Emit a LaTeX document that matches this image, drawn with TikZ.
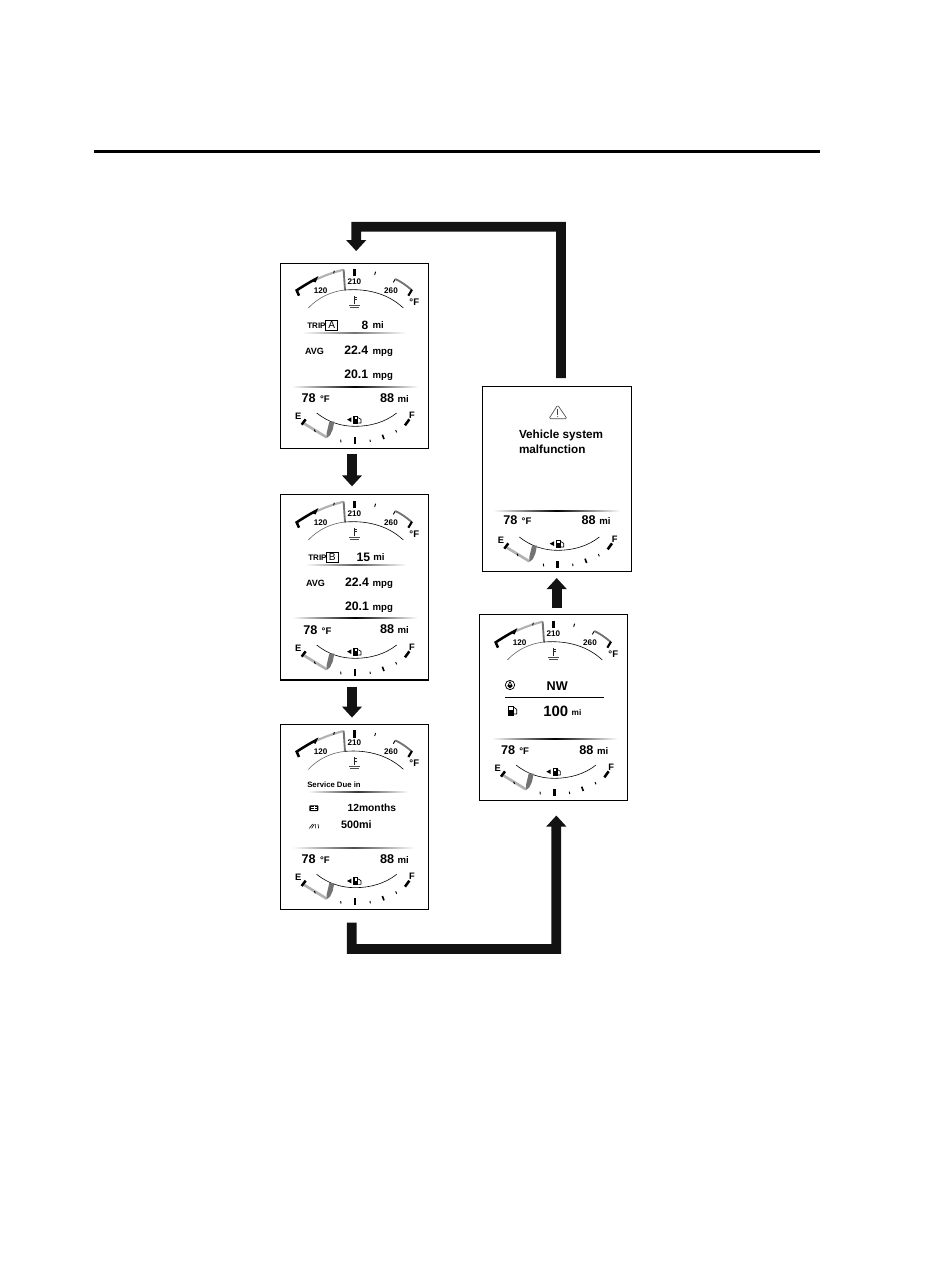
\documentclass[tikz,border=0pt]{standalone}
\usepackage{fontspec}
\setmainfont{Liberation Sans}
\usetikzlibrary{arrows.meta}
\newcommand\fs[1]{\fontsize{#1}{#1}\selectfont\bfseries}
\newcommand\lab[5]{\node[tx,font=\fs{#1},anchor=#2] (#3) at (#4) {#5};}
\tikzset{
  tx/.style={inner sep=0pt,outer sep=0pt,text=black},
  panel/.style={draw=black,line width=0.85pt,fill=white,inner sep=0pt},
  flow/.style={draw=black!93,line width=7.3pt,-{Triangle[width=14.6pt,length=8.25pt]},miter limit=10},
  thick tick/.style={line width=1.9pt,black},
  thin tick/.style={line width=0.7pt,black},
  grayband/.style={line width=1.6pt,black!30},
  darkband/.style={line width=1.4pt,black!55},
  arcl/.style={line width=0.45pt,black},
}
% name, dx, dy (zoom units)
\newcommand\tempgauge[3]{%
\begin{scope}[shift={(#2,#3)}]
  \draw[grayband] (122,65) .. controls (150,52) and (178,42) .. (206,35);
  \draw[darkband] (206,35) -- (210,97);
  \draw[line width=1.9pt,black] (72,113) -- (65,97) .. controls (85,84) and (103,73) .. (122,63) -- (118,72);
  \draw[thin tick] (178,38) -- (176,46);
  \draw[thick tick] (238,33) -- (238,55);
  \draw[thin tick] (302,41) -- (299,50);
  \draw[thin tick] (355,73) -- (361,63);
  \draw[darkband] (361,63) .. controls (378,71) and (394,82) .. (410,96);
  \draw[line width=1.6pt,black] (411,95) -- (400,113);
  \draw[arcl,black!60] (100,150) .. controls (130,118) and (170,100) .. (210,96);
  \draw[arcl] (210,96) .. controls (285,90) and (345,112) .. (385,150);
  \lab{6.1}{center}{#1t120}{137,97}{120}
  \lab{6.1}{center}{#1t210}{238,70}{210}
  \lab{6.1}{center}{#1t260}{348,97}{260}
  \lab{7.2}{center}{#1tF}{418,131}{°F}
  % coolant symbol
  \draw[line width=0.5pt,black!85] (238,113) -- (238,137) (238,118) -- (246,118) (238,125) -- (245,125);
  \draw[line width=0.35pt,black!70] (222,141) -- (255,141) (224,147) -- (253,147);
\end{scope}}
\newcommand\fuelgauge[3]{%
\begin{scope}[shift={(#2,#3)}]
  \draw[arcl] (125,465) .. controls (160,493) and (200,505) .. (240,505) .. controls (285,505) and (330,493) .. (365,465);
  \draw[line width=2pt,black!30] (88,497) -- (155,538);
  \draw[thick tick] (80,500) -- (92,484);
  \draw[thin tick] (118,515) -- (121,522);
  \fill[black!55] (163,491) -- (178,491) -- (173,515) -- (165,532) -- (155,540) -- (155,525) -- cycle;
  \draw[thin tick] (197,545) -- (198,553);
  \draw[thick tick] (240,537) -- (240,557);
  \draw[thin tick] (285,545) -- (286,552);
  \draw[line width=1.2pt,black] (322,530) -- (327,543);
  \draw[thin tick] (362,516) -- (365,523);
  \draw[thick tick] (390,502) -- (403,484);
  \lab{7}{center}{#1E}{70,475}{E}
  \lab{7}{center}{#1F}{411,472}{F}
  \fill (216,485) -- (229,478) -- (229,492) -- cycle;
  \fill (235,473) rectangle (250,497);
  \fill[white] (239,477) rectangle (246,484);
  \draw[line width=0.5pt] (250,479) -- (258,484) -- (258,495) -- (250,495);
\end{scope}}
% name, x78, x88, y baseline 78, y baseline 88
\newcommand\status[5]{%
  \lab{9.5}{base west}{#1a}{#2,#4}{78}
  \lab{7.2}{base west}{#1b}{#2+55,#4}{°F}
  \lab{9.5}{base west}{#1c}{#3,#5}{88}
  \lab{7.2}{base west}{#1d}{#3+53,#5+1}{mi}}
% left, right, y, colour
\newcommand\fadeline[4]{\shade[left color=white,right color=white,middle color=#4] (#1,#3-1.1) rectangle (#2,#3+1.1);}
\begin{document}
\begin{tikzpicture}[x=0.75pt,y=-0.75pt]
\useasboundingbox (0,0) rectangle (947,1281);
\fill[white] (0,0) rectangle (947,1281);
\draw[line width=2pt,black] (94,151.3) -- (820,151.3);

\node[panel,minimum width=111pt,minimum height=138.6pt] (a) at (354.4,355.9) {};
\node[panel,minimum width=111pt,minimum height=139pt] (b) at (354.4,587.3) {};
\node[panel,minimum width=111pt,minimum height=138.6pt] (c) at (354.4,817.2) {};
\node[panel,minimum width=111pt,minimum height=139.5pt] (d) at (553.7,707.7) {};
\node[panel,minimum width=111.8pt,minimum height=138.5pt] (e) at (556.7,478.9) {};

\coordinate (ct1) at (561,226.7);
\coordinate (ct2) at (356.2,226.7);
\coordinate (cb1) at (351.7,949);
\coordinate (cb2) at (556.3,949);
\draw[flow,shorten <=3.6pt,shorten >=5.8pt] ([xshift=-1.8pt]a.south) -- ([xshift=-1.8pt]b.north);
\draw[flow,shorten <=4.5pt,shorten >=5pt] ([xshift=-1.8pt]b.south) -- ([xshift=-1.8pt]c.north);
\draw[flow,shorten <=9.4pt,shorten >=10.7pt] ([xshift=-2pt]c.south) -- (cb1) -- (cb2) -- ([xshift=1.97pt]d.south);
\draw[flow,shorten <=4.3pt,shorten >=4.7pt] ([xshift=2.25pt]d.north) -- (e.south);
\draw[flow,shorten <=6pt,shorten >=8.9pt] ([xshift=3.2pt]e.north) -- (ct1) -- (ct2) -- ([xshift=1.35pt]a.north);

% Panel A
\begin{scope}[shift={(275,258)},x=0.25pt,y=-0.25pt]
  \tempgauge{A}{0}{0}
  \lab{6}{base west}{a1}{97,212}{TRIP}
  \node[draw=black,line width=0.6pt,inner sep=0pt,minimum width=9pt,minimum height=7pt,font=\fontsize{7.6}{7.6}\selectfont] (a2) at (170,202) {A};
  \lab{9}{base west}{a3}{260,213}{8}
  \lab{7.2}{base west}{a4}{293,212}{mi}
  \fadeline{80}{395}{225}{black!55}
  \lab{6.8}{base west}{a5}{90,288}{AVG}
  \lab{9.2}{base west}{a6}{208,288}{22.4}
  \lab{7.2}{base west}{a7}{293,288}{mpg}
  \lab{9.2}{base west}{a8}{208,362}{20.1}
  \lab{7.2}{base west}{a9}{293,362}{mpg}
  \fadeline{50}{430}{388}{black}
  \status{as}{80}{315}{434}{432}
  \fuelgauge{Af}{0}{0}
\end{scope}
% Panel B
\begin{scope}[shift={(275,490)},x=0.25pt,y=-0.25pt]
  \tempgauge{B}{0}{0}
  \lab{6}{base west}{b1}{100,212}{TRIP}
  \node[draw=black,line width=0.6pt,inner sep=0pt,minimum width=9pt,minimum height=7pt,font=\fontsize{7.6}{7.6}\selectfont] (b2) at (172,202) {B};
  \lab{9.2}{base west}{b3}{245,213}{15}
  \lab{7.2}{base west}{b4}{295,212}{mi}
  \fadeline{90}{395}{225}{black!65}
  \lab{6.8}{base west}{b5}{93,288}{AVG}
  \lab{9.2}{base west}{b6}{210,288}{22.4}
  \lab{7.2}{base west}{b7}{293,288}{mpg}
  \lab{9.2}{base west}{b8}{210,360}{20.1}
  \lab{7.2}{base west}{b9}{293,360}{mpg}
  \fadeline{52}{428}{384}{black}
  \status{bs}{85}{315}{432}{430}
  \fuelgauge{Bf}{0}{0}
\end{scope}
% Panel C
\begin{scope}[shift={(275,720)},x=0.25pt,y=-0.25pt]
  \tempgauge{C}{0}{-2}
  \lab{5.8}{base west}{c1}{97,203}{Service Due in}
  \fadeline{97}{400}{215}{black!80}
  \fill[rounded corners=0.5pt] (103,256) rectangle (130,273);
  \draw[white,line width=0.35pt] (107,262) -- (126,262) (107,267) -- (126,267) (116.5,258) -- (116.5,271);
  \lab{7.7}{base west}{c2}{218,275}{12months}
  \draw[line width=0.45pt] (103,325) -- (113,312) (110,325) -- (118,312) (122,312) -- (122,325) (129,312) -- (131,325);
  \lab{8.1}{base west}{c3}{198,324}{500mi}
  \fadeline{52}{420}{383}{black!70}
  \status{cs}{80}{315}{430}{430}
  \fuelgauge{Cf}{0}{-2}
\end{scope}
% Panel D
\begin{scope}[shift={(475,610)},x=0.25pt,y=-0.25pt]
  \tempgauge{D}{-3}{0}
  \draw[line width=0.55pt] (105,225) circle (14);
  \fill (105,213) -- (113,228) -- (105,235) -- (97,228) -- cycle;
  \fill[white] (105,222) circle (3);
  \lab{9.5}{base west}{d1}{215,242}{NW}
  \draw[line width=0.7pt] (90,262) -- (386,262);
  \fill (98,287) rectangle (117,317);
  \fill[white] (102,291) rectangle (113,300);
  \draw[line width=0.5pt] (117,292) -- (125,298) -- (125,312) -- (117,312);
  \lab{11.2}{base west}{d2}{205,318}{100}
  \lab{6.2}{base west}{d3}{290,316}{mi}
  \fadeline{50}{428}{388}{black}
  \status{ds}{78}{313}{433}{432}
  \fuelgauge{Df}{-2}{0}
\end{scope}
% Panel E
\begin{scope}[shift={(475,380)},x=0.25pt,y=-0.25pt]
  \draw[line width=0.5pt,black!70,rounded corners=1pt] (222,116) -- (248,75) -- (276,116) -- cycle;
  \draw[line width=0.7pt,black!75] (248,87) -- (248,104);
  \fill[black!75] (248,110) circle (1.6);
  \lab{8.8}{base west}{e1}{132,174}{Vehicle system}
  \lab{8.8}{base west}{e2}{132,220}{malfunction}
  \fadeline{55}{435}{392}{black}
  \status{es}{85}{320}{433}{432}
  \fuelgauge{Ef}{8}{6}
\end{scope}
\end{tikzpicture}
\end{document}
